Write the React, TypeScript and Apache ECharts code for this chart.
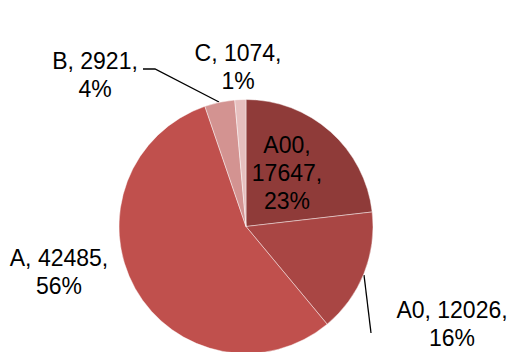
import React, { useEffect, useRef } from "react";
import * as echarts from "echarts";

// Class breakdown shown as a pie, clockwise from 12 o'clock
const categories = ["A00", "A0", "A", "B", "C"];
const counts = [17647, 12026, 42485, 2921, 1074];
const sliceColors = ["#8F3B39", "#A94644", "#C0504D", "#D39391", "#E6BFBE"];

// Label placement (text centre) and leader line routes, by slice
const labelSpots: [number, number][] = [
  [287, 172.5],
  [452, 324],
  [59, 272],
  [95, 75],
  [238, 67],
];
const leaderRoutes: ([number, number][] | null)[] = [
  null,
  [
    [364, 275],
    [367.5, 304],
    [371, 333],
  ],
  null,
  [
    [219, 102],
    [155, 69],
    [143, 69],
  ],
  null,
];

export default function App() {
  const ref = useRef<HTMLDivElement>(null);

  useEffect(() => {
    if (!ref.current) return;
    const chart = echarts.init(ref.current, null, { renderer: "svg" });

    const data = categories.map((name, i) => ({
      name,
      value: counts[i],
      itemStyle: { color: sliceColors[i] },
      label: i === 0 ? { position: "inside" as const } : undefined,
      labelLine: { show: leaderRoutes[i] !== null },
    }));

    chart.setOption({
      animation: false,
      backgroundColor: "#ffffff",
      series: [
        {
          type: "pie",
          center: [246, 226.5],
          radius: 127,
          startAngle: 90,
          clockwise: true,
          percentPrecision: 0,
          avoidLabelOverlap: false,
          itemStyle: {
            borderColor: "rgba(255,255,255,0.55)",
            borderWidth: 0.8,
          },
          emphasis: { disabled: true },
          label: {
            show: true,
            position: "outside",
            color: "#000000",
            fontFamily: "Liberation Sans, Arial, sans-serif",
            fontSize: 23,
            lineHeight: 28,
            align: "center",
            formatter: (p: any) =>
              p.dataIndex === 0
                ? `${p.name},\n${p.value},\n${p.percent}%`
                : `${p.name}, ${p.value},\n${p.percent}%`,
          },
          labelLine: {
            show: true,
            lineStyle: { color: "#000000", width: 1.3 },
          },
          labelLayout: (params: any) => {
            const i = params.dataIndex;
            const [x, y] = labelSpots[i];
            const out: any = {
              x,
              y,
              align: "center",
              verticalAlign: "middle",
            };
            if (leaderRoutes[i]) out.labelLinePoints = leaderRoutes[i];
            return out;
          },
          data,
        },
      ],
    });

    return () => chart.dispose();
  }, []);

  return (
    <div
      ref={ref}
      style={{ position: "fixed", left: 0, top: 0, width: 513, height: 352 }}
    />
  );
}
